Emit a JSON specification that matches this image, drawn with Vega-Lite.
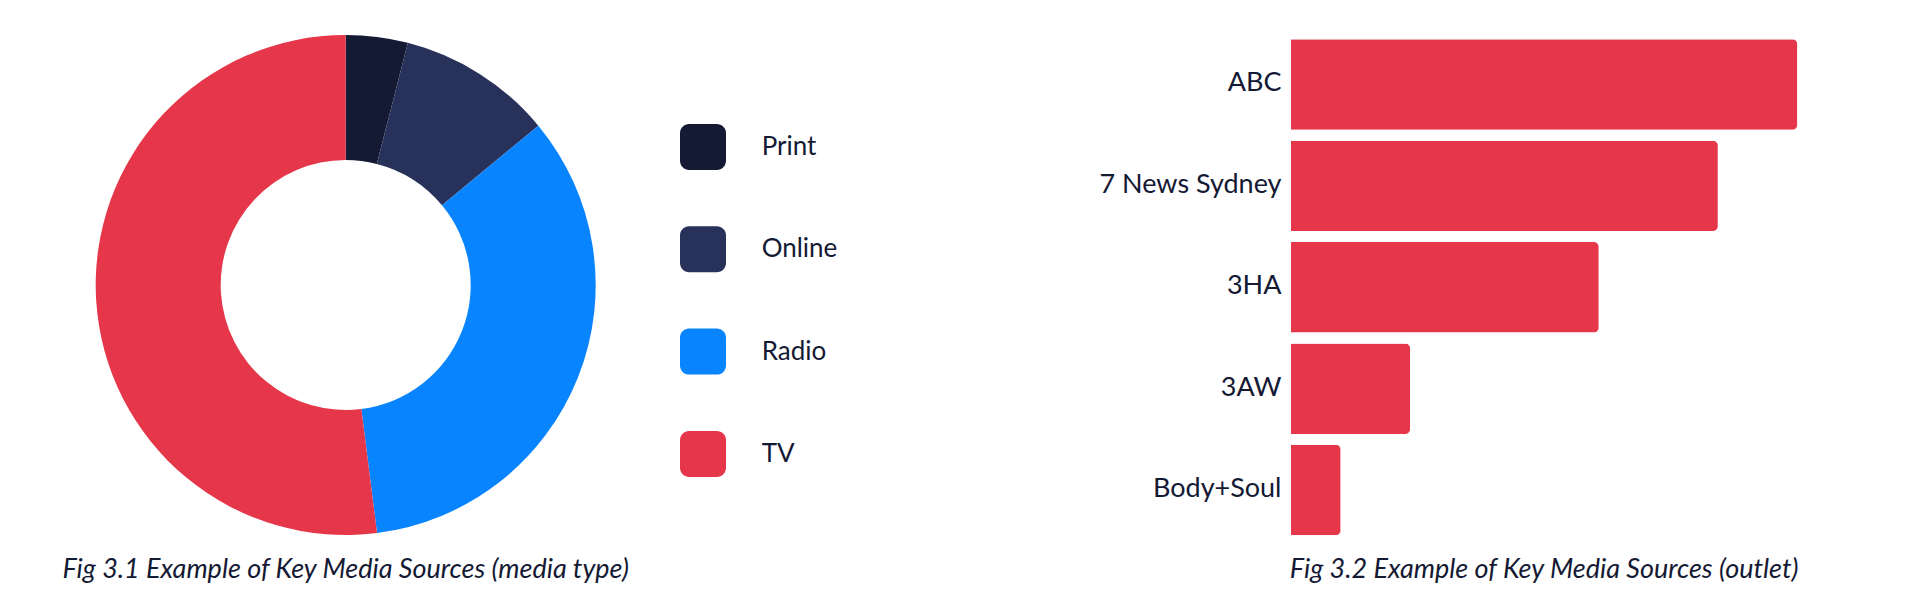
{
  "$schema": "https://vega.github.io/schema/vega-lite/v6.json",
  "background": "white",
  "padding": {"left": 61.7, "top": 33.8, "right": 0, "bottom": 0},
  "bounds": "flush",
  "spacing": 695.3,
  "config": {
    "font": "Lato",
    "view": {"stroke": null}
  },
  "hconcat": [
    {
      "width": 500,
      "height": 507,
      "data": {
        "values": [
          {"type": "Print", "share": 4},
          {"type": "Online", "share": 10},
          {"type": "Radio", "share": 34},
          {"type": "TV", "share": 52}
        ]
      },
      "title": {
        "text": "Fig 3.1 Example of Key Media Sources (media type)",
        "orient": "bottom",
        "anchor": "middle",
        "frame": "group",
        "offset": 16,
        "baseline": "top",
        "font": "Lato",
        "fontSize": 27,
        "fontStyle": "italic",
        "fontWeight": "normal",
        "color": "#141934"
      },
      "mark": {"type": "arc", "innerRadius": 125, "outerRadius": 250, "y": 251.2, "stroke": null},
      "encoding": {
        "theta": {"field": "share", "type": "quantitative", "stack": true},
        "order": {"field": "share", "type": "quantitative", "sort": "ascending"},
        "color": {
          "field": "type",
          "type": "nominal",
          "sort": ["Print", "Online", "Radio", "TV"],
          "scale": {
            "domain": ["Print", "Online", "Radio", "TV"],
            "range": ["#141934", "#283159", "#0984FF", "#E5364A"]
          },
          "legend": {
            "orient": "none",
            "legendX": 584.3,
            "legendY": 90.2,
            "title": null,
            "direction": "vertical",
            "padding": 0,
            "symbolType": "M-0.6,-1 L0.6,-1 A0.4,0.4 0 0 1 1,-0.6 L1,0.6 A0.4,0.4 0 0 1 0.6,1 L-0.6,1 A0.4,0.4 0 0 1 -1,0.6 L-1,-0.6 A0.4,0.4 0 0 1 -0.6,-1 Z",
            "symbolSize": 2116,
            "symbolStrokeWidth": 0,
            "symbolOpacity": 1,
            "rowPadding": 56.3,
            "labelOffset": 35.7,
            "labelFont": "Lato",
            "labelFontSize": 26,
            "labelColor": "#141934"
          }
        }
      }
    },
    {
      "width": 506.3,
      "height": 507,
      "data": {
        "values": [
          {"outlet": "ABC", "count": 51},
          {"outlet": "7 News Sydney", "count": 43},
          {"outlet": "3HA", "count": 31},
          {"outlet": "3AW", "count": 12},
          {"outlet": "Body+Soul", "count": 5}
        ]
      },
      "title": {
        "text": "Fig 3.2 Example of Key Media Sources (outlet)",
        "orient": "bottom",
        "anchor": "middle",
        "frame": "group",
        "offset": 16,
        "baseline": "top",
        "font": "Lato",
        "fontSize": 27,
        "fontStyle": "italic",
        "fontWeight": "normal",
        "color": "#141934"
      },
      "mark": {"type": "bar", "color": "#E5364A", "cornerRadiusEnd": 5},
      "encoding": {
        "y": {
          "field": "outlet",
          "type": "nominal",
          "sort": null,
          "scale": {"paddingInner": 0.108, "paddingOuter": 0.054},
          "axis": {
            "title": null,
            "domain": false,
            "ticks": false,
            "labelPadding": 10,
            "labelLimit": 0,
            "labelFont": "Lato",
            "labelFontSize": 27,
            "labelColor": "#141934",
            "labelOffset": -1
          }
        },
        "x": {
          "field": "count",
          "type": "quantitative",
          "scale": {"domain": [0, 51], "nice": false},
          "axis": null
        }
      }
    }
  ]
}
